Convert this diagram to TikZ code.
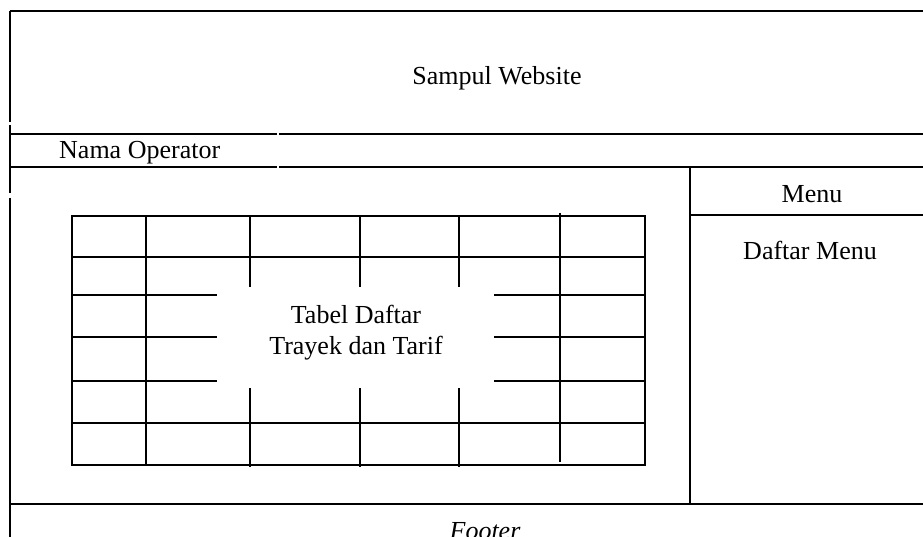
\documentclass[tikz,border=0pt]{standalone}
\usepackage{fontspec}
\setmainfont{Liberation Serif}
\begin{document}
\begin{tikzpicture}[x=1pt,y=-1pt,
  frame/.style={line width=2.4pt,black},
  grid/.style={line width=2pt,black},
  lbl/.style={font=\fontsize{26}{31}\selectfont,inner sep=0pt,anchor=base}]
\useasboundingbox (0,0) rectangle (923,537);
\clip (0,0) rectangle (923,537);
% outer frame
\draw[frame] (10,11) -- (923,11);
\draw[frame] (10,11) -- (10,122);
\draw[frame] (10,125) -- (10,193);
\draw[frame] (10,198) -- (10,540);
% Nama Operator band
\draw[frame] (10,134) -- (277,134);
\draw[frame] (279,134) -- (923,134);
\draw[frame] (10,167) -- (277,167);
\draw[frame] (279,167) -- (923,167);
% menu column
\draw[frame] (690,167) -- (690,504);
\draw[frame] (690,215) -- (923,215);
% footer
\draw[frame] (10,504) -- (923,504);
% table outline and full lines
\draw[grid] (72,216) rectangle (645,465);
\draw[grid] (72,257) -- (645,257);
\draw[grid] (72,423) -- (645,423);
\draw[grid] (146,216) -- (146,465);
\draw[grid] (560,213) -- (560,462);
% broken horizontal lines
\foreach \yy in {295,337,381}{
  \draw[grid] (72,\yy) -- (217,\yy);
  \draw[grid] (494,\yy) -- (646,\yy);
}
% broken vertical lines
\foreach \xx in {250,360,459}{
  \draw[grid] (\xx,216) -- (\xx,287);
  \draw[grid] (\xx,388) -- (\xx,467);
}
% texts
\node[lbl] (sampul) at (497,85) {Sampul Website};
\node[lbl,anchor=base west] (nama) at (59,159) {Nama Operator};
\node[lbl] (menu) at (812,203) {Menu};
\node[lbl] (daftar) at (810,259) {Daftar Menu};
\node[lbl] (tabel1) at (356,323) {Tabel Daftar};
\node[lbl] (tabel2) at (356,354) {Trayek dan Tarif};
\node[lbl,font=\fontsize{26}{31}\selectfont\itshape] (footer) at (485,539) {Footer};
\end{tikzpicture}
\end{document}
